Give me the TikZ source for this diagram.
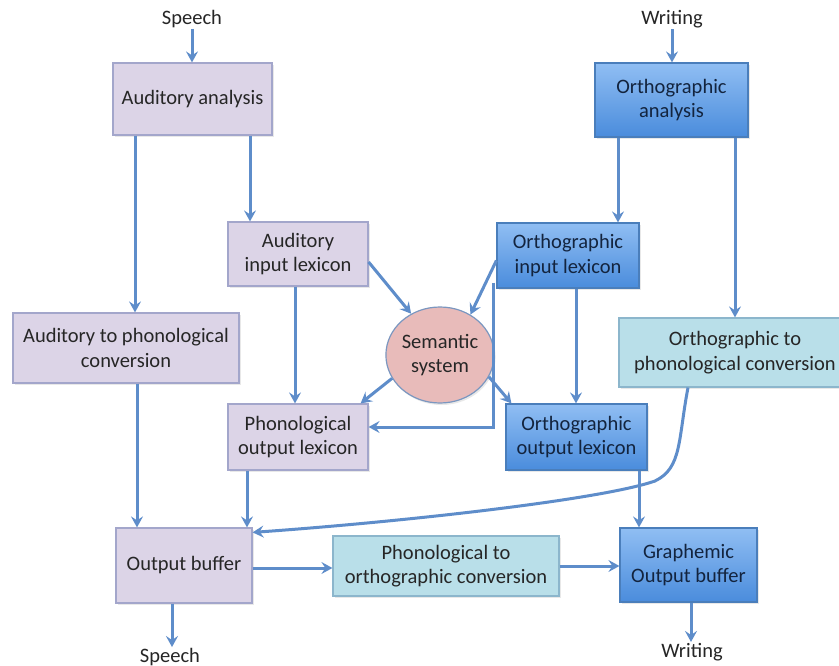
\documentclass[tikz,border=0pt]{standalone}
\usepackage{fontspec}
\setmainfont{Carlito}
\usetikzlibrary{arrows.meta,shapes.geometric,shadows}
\definecolor{lavfill}{HTML}{DCD4E7}
\definecolor{lavdraw}{HTML}{A3A6CB}
\definecolor{cyanfill}{HTML}{B9DFE9}
\definecolor{cyandraw}{HTML}{8CB6CC}
\definecolor{bluetop}{HTML}{90BEF3}
\definecolor{bluebot}{HTML}{4A8CDC}
\definecolor{bluedraw}{HTML}{4A7EBB}
\definecolor{semfill}{HTML}{E8BBBA}
\definecolor{semdraw}{HTML}{7B97C0}
\definecolor{arrcol}{HTML}{5E8DCA}
\definecolor{txtdark}{HTML}{262626}
\definecolor{txtnavy}{HTML}{13243E}
\tikzset{
  basebox/.style={rectangle, align=center, inner sep=2pt, line width=1.2pt,
    font=\fontsize{20.5}{24.5}\selectfont,
    drop shadow={opacity=0.18, shadow xshift=1.5pt, shadow yshift=-2pt}},
  lav/.style={basebox, fill=lavfill, draw=lavdraw, text=txtdark},
  aqua/.style={basebox, fill=cyanfill, draw=cyandraw, text=txtdark},
  bluebox/.style={basebox, top color=bluetop, bottom color=bluebot, draw=bluedraw, text=txtnavy},
  lbl/.style={font=\fontsize{20.5}{24.5}\selectfont, text=txtdark, inner sep=1pt},
  arr/.style={draw=arrcol, line width=3pt, -{Stealth[length=11pt,width=12pt,inset=4pt]}}
}
\begin{document}
\begin{tikzpicture}[x=1pt,y=-1pt]
\useasboundingbox (0,0) rectangle (839,666);
\fill[white] (0,0) rectangle (839,666);
% labels
\node[lbl] (sp1) at (192,19) {Speech};
\node[lbl] (wr1) at (672,19) {Writing};
\node[lbl] (sp2) at (170,657) {Speech};
\node[lbl] (wr2) at (692,652) {Writing};
% boxes
\node[lav, minimum width=159, minimum height=72] (aa) at (192.5,99) {Auditory analysis};
\node[bluebox, minimum width=153, minimum height=74] (oa) at (671.5,100) {Orthographic\\analysis};
\node[lav, minimum width=140, minimum height=64] (ail) at (298,254) {Auditory\\input lexicon};
\node[bluebox, minimum width=142, minimum height=65] (oil) at (568,255.5) {Orthographic\\input lexicon};
\node[lav, minimum width=226, minimum height=70] (atp) at (126,348) {Auditory to phonological\\conversion};
\node[ellipse, draw=semdraw, fill=semfill, line width=1.2pt, minimum width=108, minimum height=96,
  align=center, inner sep=0pt, font=\fontsize{20.5}{24.5}\selectfont, text=txtdark,
  drop shadow={opacity=0.18, shadow xshift=1.5pt, shadow yshift=-2pt}] (sem) at (440,355) {Semantic\\system};
\node[aqua, minimum width=232, minimum height=69] (otp) at (735,352.5) {Orthographic to\\phonological conversion};
\node[lav, minimum width=140, minimum height=66] (pol) at (298,437) {Phonological\\output lexicon};
\node[bluebox, minimum width=141, minimum height=66] (ool) at (576.5,437) {Orthographic\\output lexicon};
\node[lav, minimum width=136, minimum height=75] (ob) at (184,565.5) {Output buffer};
\node[aqua, minimum width=226, minimum height=60] (pto) at (446,566) {Phonological to\\orthographic conversion};
\node[bluebox, minimum width=137, minimum height=74] (gob) at (688.5,565) {Graphemic\\Output buffer};
% helper x positions
\coordinate (x135) at (135,0);
\coordinate (x250) at (250,0);
\coordinate (x618) at (618,0);
\coordinate (x735) at (735,0);
\coordinate (x295) at (295,0);
\coordinate (x576) at (576,0);
\coordinate (x137) at (137,0);
\coordinate (x247) at (247,0);
\coordinate (x639) at (639,0);
\coordinate (x172) at (172,0);
\coordinate (x691) at (691,0);
\coordinate (y568) at (0,568);
% connectors
\draw[arr] (sp1.south) -- (aa.north -| sp1);
\draw[arr] (wr1.south) -- (oa.north -| wr1);
\draw[arr] (aa.south -| x135) -- (atp.north -| x135);
\draw[arr] (aa.south -| x250) -- (ail.north -| x250);
\draw[arr] (oa.south -| x618) -- (oil.north -| x618);
\draw[arr] (oa.south -| x735) -- (otp.north -| x735);
\draw[arr] (ail.south -| x295) -- (pol.north -| x295);
\draw[arr] (oil.south -| x576) -- (ool.north -| x576);
\draw[arr] ([yshift=-8]ail.east) -- (sem.125);
\draw[arr] ([yshift=-5]oil.west) -- (sem.53);
\draw[arr] ([xshift=-3,yshift=6]oil.south west) |- ([yshift=10]pol.east);
\draw[arr] (sem.206) -- ([xshift=-8]pol.north east);
\draw[arr] (sem.-24) -- ([xshift=6]ool.north west);
\draw[arr] (atp.south -| x137) -- (ob.north -| x137);
\draw[arr] (pol.south -| x247) -- (ob.north -| x247);
\draw[arr] (ool.south -| x639) -- (gob.north -| x639);
\draw[arr] ([xshift=-47]otp.south) .. controls (678,440) and (682,468) .. (655,481)
   .. controls (600,500) and (400,522) .. ([yshift=-5]ob.north east);
\draw[arr] (ob.east |- y568) -- (pto.west |- y568);
\draw[arr] (pto.east) -- (gob.west |- pto.east);
\draw[arr] (ob.south -| x172) -- (sp2.north -| x172);
\draw[arr] (gob.south -| x691) -- (wr2.north -| x691);
\end{tikzpicture}
\end{document}
